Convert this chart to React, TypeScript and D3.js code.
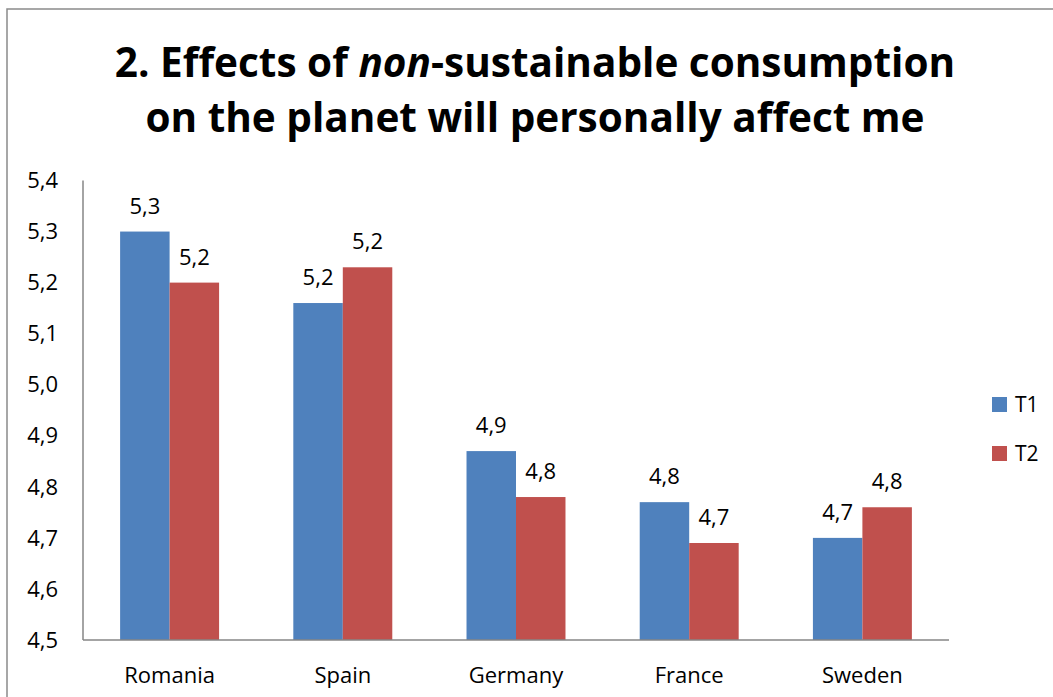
import React from "react";
import * as d3 from "d3";

const categories = ["Romania", "Spain", "Germany", "France", "Sweden"];
const seriesNames = ["T1", "T2"];
const t1Values = [5.3, 5.16, 4.87, 4.77, 4.7];
const t2Values = [5.2, 5.23, 4.78, 4.69, 4.76];
const yTicks = [4.5, 4.6, 4.7, 4.8, 4.9, 5.0, 5.1, 5.2, 5.3, 5.4];
const seriesColors = ["#4F81BD", "#C0504D"];

const W = 1053;
const H = 697;
const FONT = "'Open Sans', 'Liberation Sans', sans-serif";

const fmt = (v: number) => d3.format(".1f")(v).replace(".", ",");

export default function App() {
  const x0 = d3.scaleBand<string>().domain(categories).range([83, 949]).padding(0);
  const x1 = d3
    .scaleBand<string>()
    .domain(seriesNames)
    .range([0, x0.bandwidth()])
    .paddingInner(0)
    .paddingOuter(0.75);
  const y = d3.scaleLinear().domain([4.5, 5.4]).range([640, 180.5]);

  const series = [t1Values, t2Values];

  return (
    <svg
      width={W}
      height={H}
      style={{ position: "absolute", left: 0, top: 0, background: "#fff" }}
      fontFamily={FONT}
    >
      <rect x={0} y={0} width={W} height={H} fill="#fff" />
      {/* chart area frame */}
      <rect x={7} y={9} width={W + 20} height={H + 20} fill="none" stroke="#8a8a8a" strokeWidth={1.5} />

      {/* title */}
      <text x={535} y={77} textAnchor="middle" fontWeight="bold" fontSize={40.5} fill="#000">
        2. Effects of <tspan fontStyle="italic">non</tspan>-sustainable consumption
      </text>
      <text x={535} y={132} textAnchor="middle" fontWeight="bold" fontSize={40.5} fill="#000">
        on the planet will personally affect me
      </text>

      {/* y axis labels */}
      {yTicks.map((t) => (
        <text
          key={t}
          x={58}
          y={y(t)}
          dy="0.35em"
          textAnchor="end"
          fontSize={22}
          fill="#000"
        >
          {fmt(t)}
        </text>
      ))}

      {/* bars */}
      {categories.map((c, i) => (
        <g key={c} transform={`translate(${x0(c)},0)`}>
          {seriesNames.map((s, j) => {
            const v = series[j][i];
            const bx = x1(s) as number;
            const bw = x1.bandwidth();
            return (
              <g key={s}>
                <rect
                  x={bx}
                  y={y(v)}
                  width={bw}
                  height={y(4.5) - y(v)}
                  fill={seriesColors[j]}
                />
                <text
                  x={bx + bw / 2}
                  y={y(v) - 18}
                  textAnchor="middle"
                  fontSize={22}
                  fill="#000"
                >
                  {fmt(v)}
                </text>
              </g>
            );
          })}
        </g>
      ))}

      {/* axes */}
      <line x1={83} x2={83} y1={180.5} y2={640} stroke="#868686" strokeWidth={1.5} />
      <line x1={83} x2={949} y1={640} y2={640} stroke="#868686" strokeWidth={1.5} />

      {/* category labels */}
      {categories.map((c) => (
        <text
          key={c}
          x={(x0(c) as number) + x0.bandwidth() / 2}
          y={683}
          textAnchor="middle"
          fontSize={22}
          fill="#000"
        >
          {c}
        </text>
      ))}

      {/* legend */}
      {seriesNames.map((s, j) => (
        <g key={s} transform={`translate(992,${397 + j * 49})`}>
          <rect x={0} y={0} width={15} height={15} fill={seriesColors[j]} />
          <text x={23} y={15} fontSize={21} fill="#000">
            {s}
          </text>
        </g>
      ))}
    </svg>
  );
}
